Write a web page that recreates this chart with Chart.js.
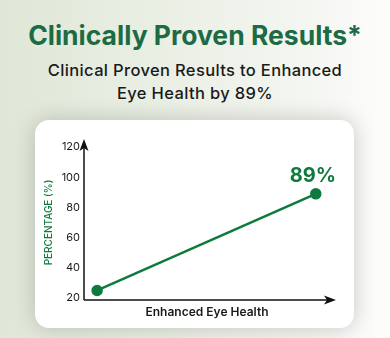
<!DOCTYPE html>
<html>
<head>
<meta charset="utf-8">
<script src="https://cdn.jsdelivr.net/npm/chart.js@4.4.1/dist/chart.umd.min.js"></script>
<style>
  html, body { margin: 0; padding: 0; }
  body {
    width: 390px; height: 338px; overflow: hidden; position: relative;
    background: linear-gradient(90deg, #dfe7d7 0%, #eaefe4 40%, #f3f5f0 75%, #fdfdfc 100%);
    font-family: "Inter", "Open Sans", sans-serif;
  }
  .title {
    position: absolute; left: 0; width: 390px; top: 19px; text-align: center;
    font-size: 26.5px; font-weight: 700; color: #1c6b45; letter-spacing: 0;
  }
  .sub {
    position: absolute; left: 0; width: 390px; top: 59px; text-align: center;
    font-size: 16.5px; font-weight: 500; color: #1a1a1a; line-height: 23px;
    letter-spacing: 0.35px;
  }
  .card {
    position: absolute; left: 35px; top: 120px; width: 319px; height: 208px;
    background: #fff; border-radius: 14px;
    box-shadow: 0 0 22px rgba(0,0,0,0.2);
  }
  .card canvas { position: absolute; left: 0; top: 0; }
</style>
</head>
<body>
<div class="title">Clinically Proven Results*</div>
<div class="sub">Clinical Proven Results to Enhanced<br>Eye Health by 89%</div>
<div class="card"><canvas id="chart" width="319" height="208"></canvas></div>
<script>
const categories = ['Before', 'After'];
const xPositions = [0, 1];
const percentages = [25, 89];
const yTicks = [20, 40, 60, 80, 100, 120];

const green = '#0f7a3e';

const arrowPlugin = {
  id: 'arrows',
  afterDraw(chart) {
    const {ctx, chartArea} = chart;
    const left = chartArea.left, bottom = chartArea.bottom + 2;
    ctx.save();
    ctx.strokeStyle = '#111';
    ctx.fillStyle = '#111';
    ctx.lineWidth = 1.5;
    // y axis
    ctx.beginPath();
    ctx.moveTo(left, bottom);
    ctx.lineTo(left, chartArea.top - 4);
    ctx.stroke();
    ctx.beginPath();
    ctx.moveTo(left, chartArea.top - 8);
    ctx.lineTo(left + 4.5, chartArea.top + 4);
    ctx.lineTo(left, chartArea.top + 1);
    ctx.lineTo(left - 4.5, chartArea.top + 4);
    ctx.closePath();
    ctx.fill();
    // x axis
    const right = chartArea.right + 6;
    ctx.beginPath();
    ctx.moveTo(left, bottom);
    ctx.lineTo(right - 4, bottom);
    ctx.stroke();
    ctx.beginPath();
    ctx.moveTo(right, bottom);
    ctx.lineTo(right - 12, bottom - 4.5);
    ctx.lineTo(right - 9, bottom);
    ctx.lineTo(right - 12, bottom + 4.5);
    ctx.closePath();
    ctx.fill();
    // value label on last point
    const meta = chart.getDatasetMeta(0);
    const last = meta.data[meta.data.length - 1];
    ctx.fillStyle = green;
    ctx.font = '700 20px Inter, "Open Sans", sans-serif';
    ctx.textAlign = 'center';
    ctx.textBaseline = 'middle';
    ctx.fillText(percentages[percentages.length - 1] + '%', last.x - 3, last.y - 18);
    ctx.restore();
  }
};

new Chart(document.getElementById('chart'), {
  type: 'line',
  data: {
    labels: categories,
    datasets: [{
      data: xPositions.map((x, i) => ({x: x, y: percentages[i]})),
      borderColor: green,
      backgroundColor: green,
      borderWidth: 2.5,
      pointRadius: 4.5,
      pointHoverRadius: 4.5,
      tension: 0
    }]
  },
  options: {
    responsive: false,
    animation: false,
    layout: { padding: { left: 0, top: 27, right: 24, bottom: 0 } },
    plugins: { legend: { display: false }, tooltip: { enabled: false } },
    scales: {
      x: {
        type: 'linear',
        min: -0.06,
        max: 1.065,
        grid: { display: false },
        border: { display: false },
        ticks: { display: false },
        title: {
          display: true,
          text: 'Enhanced Eye Health',
          color: '#1a1a1a',
          font: { family: 'Inter', size: 12, weight: '600' },
          padding: { top: 0, bottom: 8 }
        },
        afterFit(scale) { scale.height = 30; }
      },
      y: {
        min: 20,
        max: 120,
        afterBuildTicks(scale) { scale.ticks = yTicks.map(v => ({value: v})); },
        grid: { display: false, drawTicks: false },
        border: { display: false },
        ticks: {
          color: '#1a1a1a',
          padding: 4,
          font: { family: 'Inter', size: 11 }
        },
        title: {
          display: true,
          text: 'PERCENTAGE (%)',
          color: green,
          font: { family: 'Inter', size: 10, weight: '500' },
          padding: { top: 8, bottom: 0 }
        },
        afterFit(scale) { scale.width = 49; }
      }
    }
  },
  plugins: [arrowPlugin]
});
</script>
</body>
</html>
